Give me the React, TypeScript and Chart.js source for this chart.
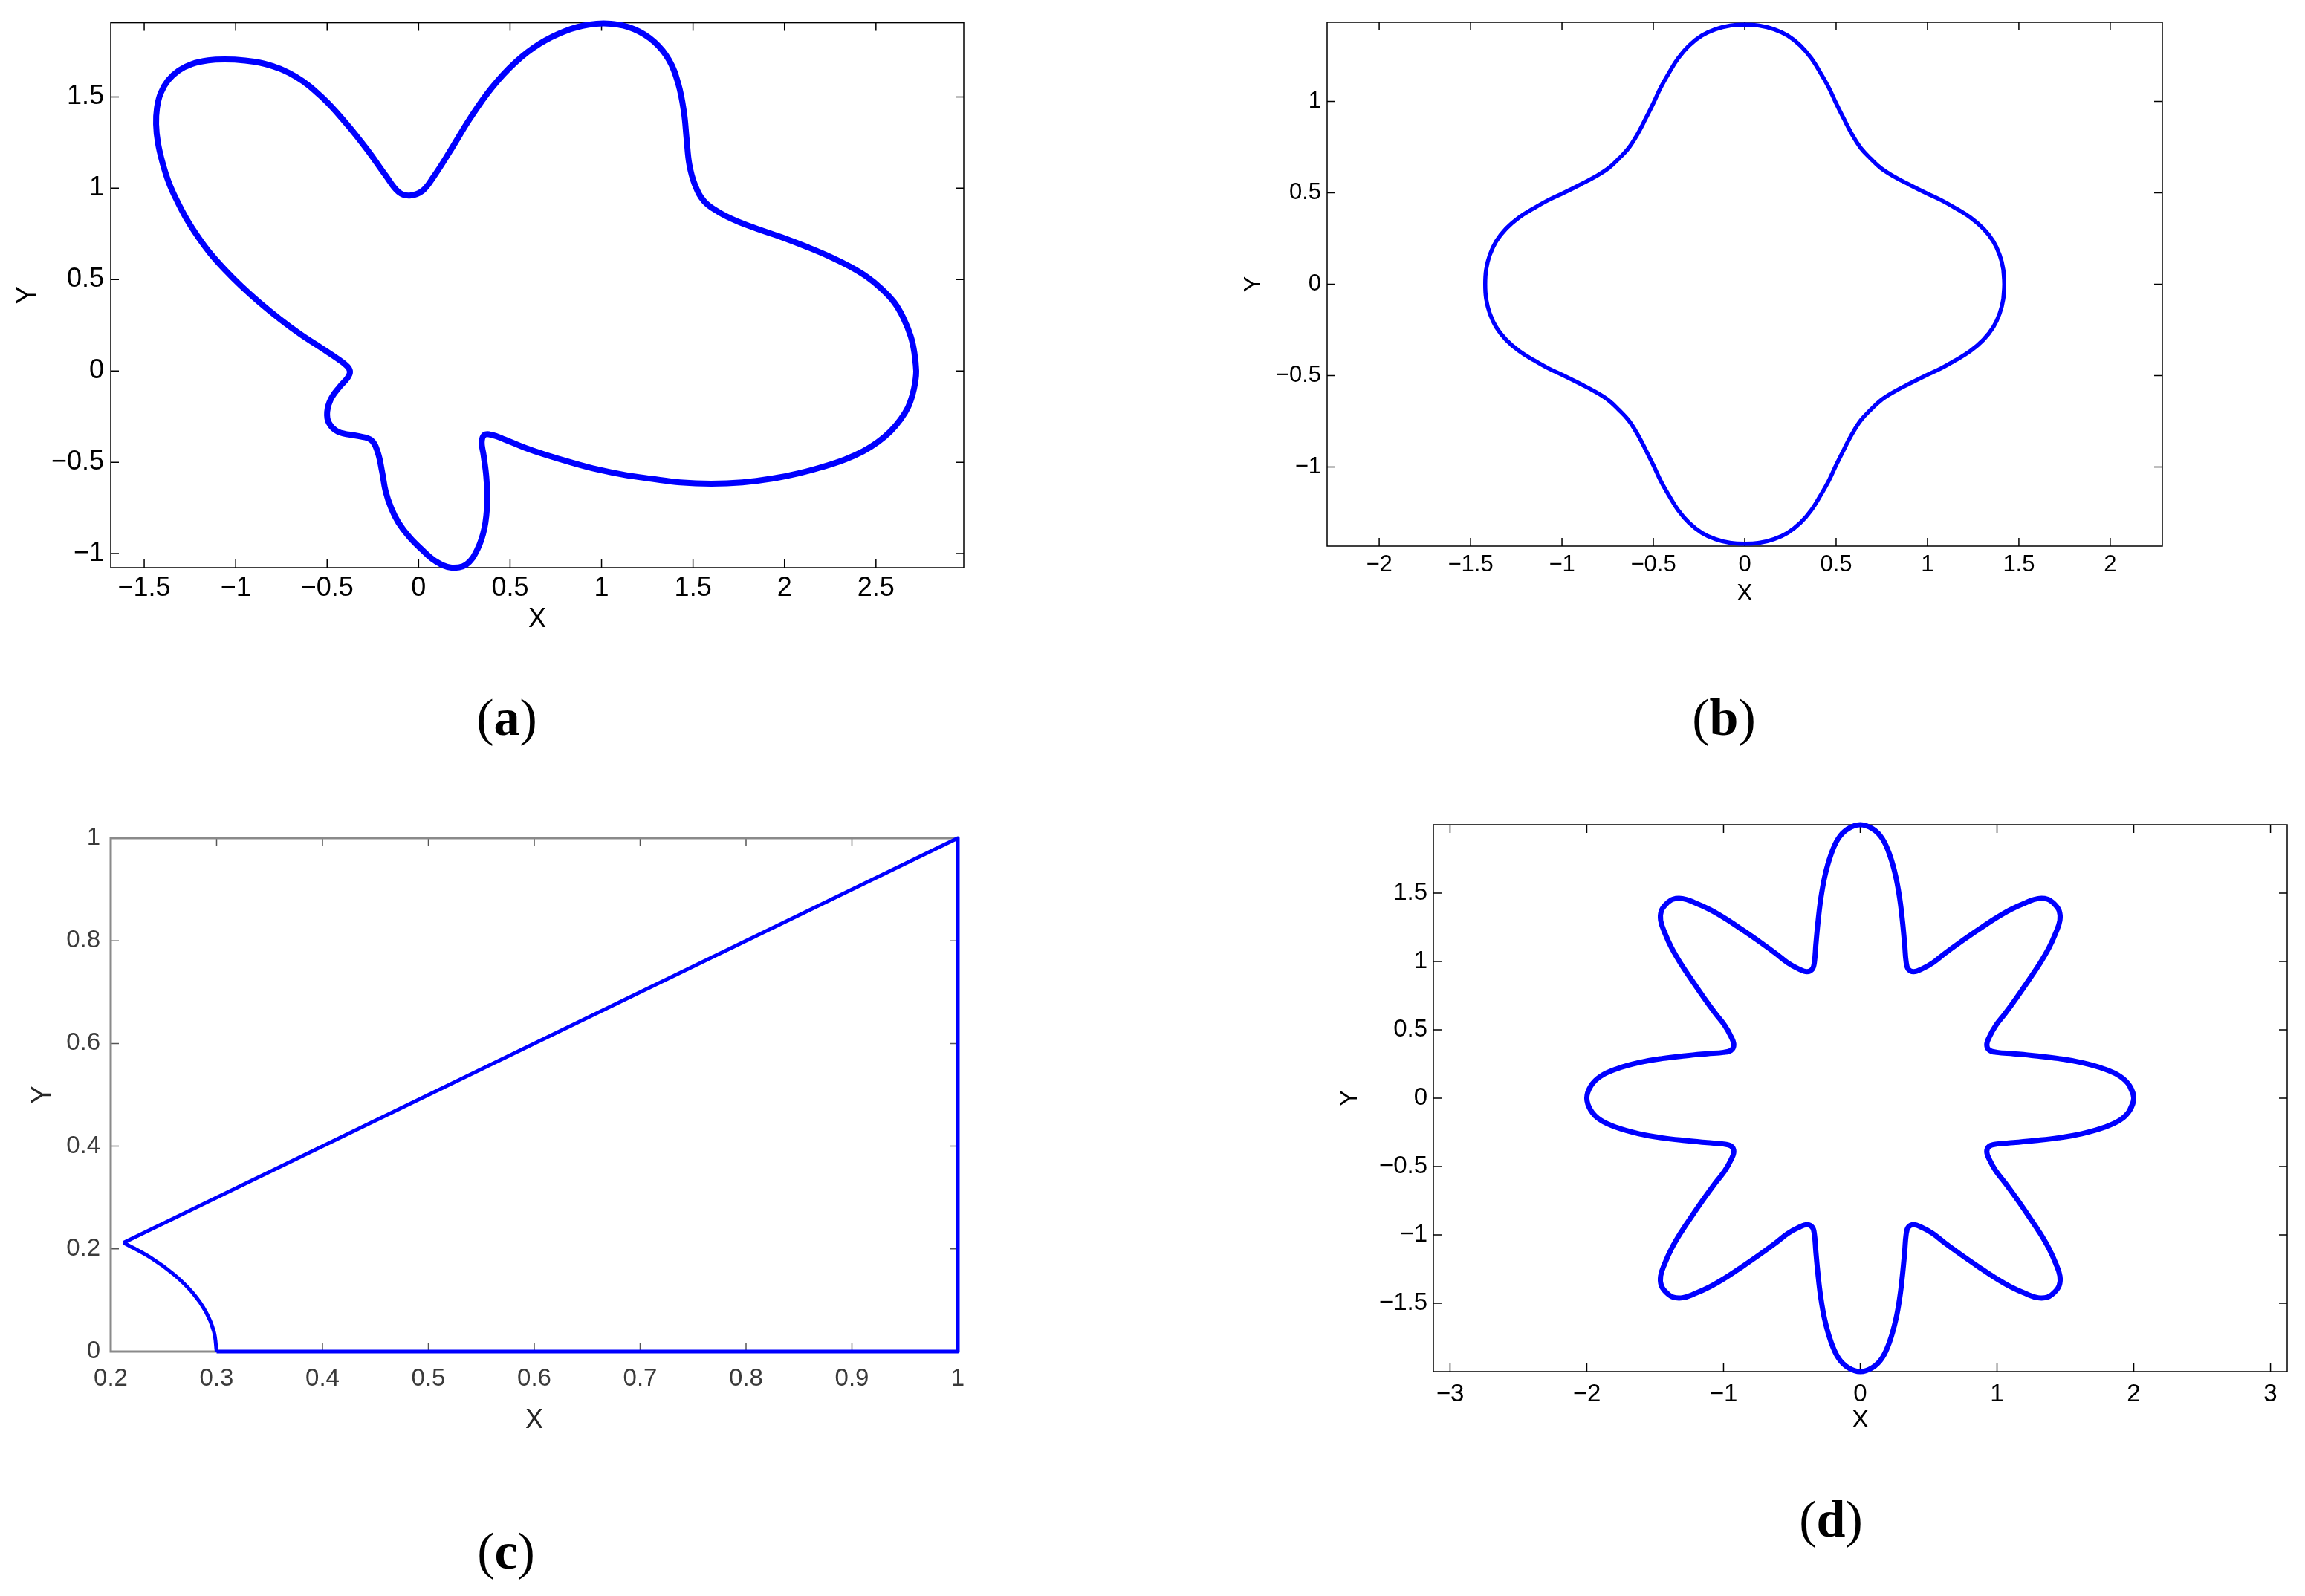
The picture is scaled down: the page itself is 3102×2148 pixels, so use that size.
import React, { useEffect, useRef } from 'react';
import { Chart, registerables } from 'chart.js';

Chart.register(...registerables);

type Pt = [number, number];

const BLUE = '#0000ff';
const SANS = '"Liberation Sans", Arial, Helvetica, sans-serif';
const SERIF = '"Liberation Serif", "Times New Roman", serif';

// ---------- Panel (a) ----------
const curveA: Pt[] = [
  [2.72, 0], [2.71, 0.10], [2.69, 0.19], [2.65, 0.29], [2.60, 0.375], [2.53, 0.45], [2.45, 0.515],
  [2.36, 0.57], [2.25, 0.625], [2.12, 0.68], [1.99, 0.73], [1.86, 0.775], [1.74, 0.82],
  [1.64, 0.87], [1.56, 0.93],
  [1.51, 1.02], [1.48, 1.13], [1.465, 1.27], [1.45, 1.42], [1.42, 1.57], [1.37, 1.70], [1.29, 1.80],
  [1.18, 1.87], [1.05, 1.90], [0.93, 1.895], [0.80, 1.86], [0.66, 1.79], [0.53, 1.69], [0.40, 1.55],
  [0.28, 1.38], [0.17, 1.20], [0.08, 1.06], [0.02, 0.985], [-0.05, 0.96], [-0.11, 0.98], [-0.18, 1.07],
  [-0.28, 1.21], [-0.40, 1.36], [-0.53, 1.50], [-0.67, 1.61], [-0.82, 1.675], [-0.96, 1.70], [-1.06, 1.705],
  [-1.15, 1.70], [-1.24, 1.68], [-1.31, 1.645], [-1.37, 1.59], [-1.41, 1.52], [-1.43, 1.44], [-1.435, 1.35],
  [-1.425, 1.25], [-1.40, 1.14], [-1.365, 1.03], [-1.32, 0.93], [-1.27, 0.835], [-1.21, 0.74], [-1.14, 0.645],
  [-1.06, 0.555], [-0.97, 0.465], [-0.87, 0.375], [-0.76, 0.285], [-0.645, 0.20], [-0.53, 0.125],
  [-0.44, 0.065], [-0.39, 0.025], [-0.375, -0.005], [-0.39, -0.04], [-0.43, -0.085], [-0.48, -0.155],
  [-0.50, -0.225], [-0.49, -0.285], [-0.44, -0.333], [-0.33, -0.357], [-0.26, -0.378], [-0.225, -0.44],
  [-0.20, -0.55], [-0.18, -0.66], [-0.15, -0.75], [-0.11, -0.83], [-0.05, -0.91], [0.02, -0.98],
  [0.09, -1.04], [0.18, -1.077], [0.26, -1.06], [0.32, -0.98], [0.36, -0.86], [0.375, -0.72],
  [0.37, -0.58], [0.355, -0.46], [0.345, -0.39], [0.36, -0.35], [0.40, -0.35], [0.47, -0.375],
  [0.58, -0.42], [0.69, -0.458], [0.83, -0.50], [0.98, -0.54], [1.13, -0.57], [1.27, -0.59],
  [1.43, -0.61], [1.60, -0.617], [1.77, -0.61], [1.93, -0.59], [2.08, -0.56], [2.21, -0.525],
  [2.33, -0.485], [2.43, -0.44], [2.51, -0.39], [2.58, -0.33], [2.635, -0.265], [2.675, -0.20],
  [2.70, -0.13], [2.715, -0.06], [2.72, 0],
];
const ticksAX = [-1.5, -1, -0.5, 0, 0.5, 1, 1.5, 2, 2.5];
const labelsAX = ['−1.5', '−1', '−0.5', '0', '0.5', '1', '1.5', '2', '2.5'];
const ticksAY = [-1, -0.5, 0, 0.5, 1, 1.5];
const labelsAY = ['−1', '−0.5', '0', '0.5', '1', '1.5'];

// ---------- Panel (b) ----------
const curveB: Pt[] = [
  [1.42, 0], [1.415, 0.08], [1.395, 0.16], [1.36, 0.235], [1.305, 0.305], [1.235, 0.365], [1.155, 0.415],
  [1.075, 0.46], [0.99, 0.5], [0.90, 0.545], [0.815, 0.59], [0.745, 0.635], [0.688, 0.688], [0.635, 0.745],
  [0.59, 0.815], [0.545, 0.90], [0.5, 0.99], [0.46, 1.075], [0.415, 1.155], [0.365, 1.235], [0.305, 1.305],
  [0.235, 1.36], [0.16, 1.395], [0.08, 1.415], [0, 1.42],
  [-0.08, 1.415], [-0.16, 1.395], [-0.235, 1.36], [-0.305, 1.305], [-0.365, 1.235], [-0.415, 1.155],
  [-0.46, 1.075], [-0.5, 0.99], [-0.545, 0.90], [-0.59, 0.815], [-0.635, 0.745], [-0.688, 0.688],
  [-0.745, 0.635], [-0.815, 0.59], [-0.90, 0.545], [-0.99, 0.5], [-1.075, 0.46], [-1.155, 0.415],
  [-1.235, 0.365], [-1.305, 0.305], [-1.36, 0.235], [-1.395, 0.16], [-1.415, 0.08], [-1.42, 0],
  [-1.415, -0.08], [-1.395, -0.16], [-1.36, -0.235], [-1.305, -0.305], [-1.235, -0.365], [-1.155, -0.415],
  [-1.075, -0.46], [-0.99, -0.5], [-0.90, -0.545], [-0.815, -0.59], [-0.745, -0.635], [-0.688, -0.688],
  [-0.635, -0.745], [-0.59, -0.815], [-0.545, -0.90], [-0.5, -0.99], [-0.46, -1.075], [-0.415, -1.155],
  [-0.365, -1.235], [-0.305, -1.305], [-0.235, -1.36], [-0.16, -1.395], [-0.08, -1.415], [0, -1.42],
  [0.08, -1.415], [0.16, -1.395], [0.235, -1.36], [0.305, -1.305], [0.365, -1.235], [0.415, -1.155],
  [0.46, -1.075], [0.5, -0.99], [0.545, -0.90], [0.59, -0.815], [0.635, -0.745], [0.688, -0.688],
  [0.745, -0.635], [0.815, -0.59], [0.90, -0.545], [0.99, -0.5], [1.075, -0.46], [1.155, -0.415],
  [1.235, -0.365], [1.305, -0.305], [1.36, -0.235], [1.395, -0.16], [1.415, -0.08], [1.42, 0],
];
const ticksBX = [-2, -1.5, -1, -0.5, 0, 0.5, 1, 1.5, 2];
const labelsBX = ['−2', '−1.5', '−1', '−0.5', '0', '0.5', '1', '1.5', '2'];
const ticksBY = [-1, -0.5, 0, 0.5, 1];
const labelsBY = ['−1', '−0.5', '0', '0.5', '1'];

// ---------- Panel (c) ----------
const polyC: Pt[] = [[0.3, 0], [1, 0], [1, 1], [0.2121, 0.2121]];
const arcC: Pt[] = [
  [0.2121, 0.2121], [0.238, 0.1826], [0.2598, 0.15], [0.2772, 0.1148], [0.2898, 0.0776], [0.2974, 0.0392], [0.3, 0],
];
const ticksCX = [0.2, 0.3, 0.4, 0.5, 0.6, 0.7, 0.8, 0.9, 1];
const labelsCX = ['0.2', '0.3', '0.4', '0.5', '0.6', '0.7', '0.8', '0.9', '1'];
const ticksCY = [0, 0.2, 0.4, 0.6, 0.8, 1];
const labelsCY = ['0', '0.2', '0.4', '0.6', '0.8', '1'];

// ---------- Panel (d) ----------
const curveD: Pt[] = [
  [2.0, 0], [1.97, 0.09], [1.90, 0.16], [1.78, 0.215], [1.62, 0.26], [1.45, 0.29], [1.28, 0.31], [1.12, 0.325],
  [1.00, 0.335], [0.945, 0.35], [0.925, 0.39], [0.945, 0.45], [0.99, 0.53], [1.06, 0.62], [1.14, 0.73],
  [1.23, 0.86], [1.31, 0.98], [1.38, 1.10], [1.43, 1.21], [1.46, 1.30], [1.455, 1.37], [1.42, 1.42],
  [1.37, 1.455], [1.30, 1.46], [1.21, 1.43], [1.10, 1.38], [0.98, 1.31], [0.86, 1.23], [0.73, 1.14],
  [0.62, 1.06], [0.53, 0.99], [0.45, 0.945], [0.39, 0.925], [0.35, 0.945], [0.335, 1.00], [0.325, 1.12],
  [0.31, 1.28], [0.29, 1.45], [0.26, 1.62], [0.215, 1.78], [0.16, 1.90], [0.09, 1.97], [0, 2.0],
  [-0.09, 1.97], [-0.16, 1.90], [-0.215, 1.78], [-0.26, 1.62], [-0.29, 1.45], [-0.31, 1.28], [-0.325, 1.12],
  [-0.335, 1.00], [-0.35, 0.945], [-0.39, 0.925], [-0.45, 0.945], [-0.53, 0.99], [-0.62, 1.06], [-0.73, 1.14],
  [-0.86, 1.23], [-0.98, 1.31], [-1.10, 1.38], [-1.21, 1.43], [-1.30, 1.46], [-1.37, 1.455], [-1.42, 1.42],
  [-1.455, 1.37], [-1.46, 1.30], [-1.43, 1.21], [-1.38, 1.10], [-1.31, 0.98], [-1.23, 0.86], [-1.14, 0.73],
  [-1.06, 0.62], [-0.99, 0.53], [-0.945, 0.45], [-0.925, 0.39], [-0.945, 0.35], [-1.00, 0.335], [-1.12, 0.325],
  [-1.28, 0.31], [-1.45, 0.29], [-1.62, 0.26], [-1.78, 0.215], [-1.90, 0.16], [-1.97, 0.09], [-2.0, 0],
  [-1.97, -0.09], [-1.90, -0.16], [-1.78, -0.215], [-1.62, -0.26], [-1.45, -0.29], [-1.28, -0.31], [-1.12, -0.325],
  [-1.00, -0.335], [-0.945, -0.35], [-0.925, -0.39], [-0.945, -0.45], [-0.99, -0.53], [-1.06, -0.62], [-1.14, -0.73],
  [-1.23, -0.86], [-1.31, -0.98], [-1.38, -1.10], [-1.43, -1.21], [-1.46, -1.30], [-1.455, -1.37], [-1.42, -1.42],
  [-1.37, -1.455], [-1.30, -1.46], [-1.21, -1.43], [-1.10, -1.38], [-0.98, -1.31], [-0.86, -1.23], [-0.73, -1.14],
  [-0.62, -1.06], [-0.53, -0.99], [-0.45, -0.945], [-0.39, -0.925], [-0.35, -0.945], [-0.335, -1.00], [-0.325, -1.12],
  [-0.31, -1.28], [-0.29, -1.45], [-0.26, -1.62], [-0.215, -1.78], [-0.16, -1.90], [-0.09, -1.97], [0, -2.0],
  [0.09, -1.97], [0.16, -1.90], [0.215, -1.78], [0.26, -1.62], [0.29, -1.45], [0.31, -1.28], [0.325, -1.12],
  [0.335, -1.00], [0.35, -0.945], [0.39, -0.925], [0.45, -0.945], [0.53, -0.99], [0.62, -1.06], [0.73, -1.14],
  [0.86, -1.23], [0.98, -1.31], [1.10, -1.38], [1.21, -1.43], [1.30, -1.46], [1.37, -1.455], [1.42, -1.42],
  [1.455, -1.37], [1.46, -1.30], [1.43, -1.21], [1.38, -1.10], [1.31, -0.98], [1.23, -0.86], [1.14, -0.73],
  [1.06, -0.62], [0.99, -0.53], [0.945, -0.45], [0.925, -0.39], [0.945, -0.35], [1.00, -0.335], [1.12, -0.325],
  [1.28, -0.31], [1.45, -0.29], [1.62, -0.26], [1.78, -0.215], [1.90, -0.16], [1.97, -0.09], [2.0, 0],
];
const ticksDX = [-3, -2, -1, 0, 1, 2, 3];
const labelsDX = ['−3', '−2', '−1', '0', '1', '2', '3'];
const ticksDY = [-1.5, -1, -0.5, 0, 0.5, 1, 1.5];
const labelsDY = ['−1.5', '−1', '−0.5', '0', '0.5', '1', '1.5'];

// ---------- Layout specs ----------
interface Series { pts: Pt[]; tension: number; closed: boolean; }
interface PanelSpec {
  canvas: { left: number; top: number; w: number; h: number };
  area: { l: number; r: number; t: number; b: number };
  xRange: [number, number];
  yRange: [number, number];
  xTicks: number[]; xLabels: string[];
  yTicks: number[]; yLabels: string[];
  yTitleX: number; xTitleY: number;
  tickSize: number; titleSize: number;
  xTickPad: number; yTickPad: number;
  lineWidth: number;
  series: Series[];
  boxColor: string; boxWidth: number; tickColor: string; labelColor: string; titleColor: string;
}

const panels: PanelSpec[] = [
  {
    canvas: { left: 0, top: 0, w: 1400, h: 880 },
    area: { l: 149, r: 1297, t: 30, b: 764 },
    xRange: [-1.683, 2.98], yRange: [-1.077, 1.906],
    xTicks: ticksAX, xLabels: labelsAX, yTicks: ticksAY, yLabels: labelsAY,
    yTitleX: 38, xTitleY: 834, tickSize: 36, titleSize: 36, xTickPad: 6, yTickPad: 9,
    lineWidth: 8, series: [{ pts: curveA, tension: 0.4, closed: true }],
    boxColor: '#000', boxWidth: 1.5, tickColor: '#000', labelColor: '#000', titleColor: '#000',
  },
  {
    canvas: { left: 1600, top: 0, w: 1502, h: 880 },
    area: { l: 1786, r: 2910, t: 30, b: 735 },
    xRange: [-2.285, 2.285], yRange: [-1.433, 1.433],
    xTicks: ticksBX, xLabels: labelsBX, yTicks: ticksBY, yLabels: labelsBY,
    yTitleX: 1687, xTitleY: 799, tickSize: 31, titleSize: 32, xTickPad: 7, yTickPad: 8,
    lineWidth: 5.5, series: [{ pts: curveB, tension: 0.4, closed: true }],
    boxColor: '#000', boxWidth: 1.5, tickColor: '#000', labelColor: '#000', titleColor: '#000',
  },
  {
    canvas: { left: 0, top: 1080, w: 1400, h: 900 },
    area: { l: 149, r: 1289, t: 1128, b: 1819 },
    xRange: [0.2, 1], yRange: [0, 1],
    xTicks: ticksCX, xLabels: labelsCX, yTicks: ticksCY, yLabels: labelsCY,
    yTitleX: 58, xTitleY: 1912, tickSize: 33, titleSize: 36, xTickPad: 17, yTickPad: 14,
    lineWidth: 5,
    series: [{ pts: polyC, tension: 0, closed: false }, { pts: arcC, tension: 0.4, closed: false }],
    boxColor: '#8a8a8a', boxWidth: 3, tickColor: '#555', labelColor: '#3a3a3a', titleColor: '#262626',
  },
  {
    canvas: { left: 1700, top: 1080, w: 1402, h: 900 },
    area: { l: 1929, r: 3078, t: 1110, b: 1846 },
    xRange: [-3.122, 3.122], yRange: [-2, 2],
    xTicks: ticksDX, xLabels: labelsDX, yTicks: ticksDY, yLabels: labelsDY,
    yTitleX: 1817, xTitleY: 1912, tickSize: 33, titleSize: 34, xTickPad: 11, yTickPad: 8,
    lineWidth: 7, series: [{ pts: curveD, tension: 0.4, closed: true }],
    boxColor: '#000', boxWidth: 1.5, tickColor: '#000', labelColor: '#000', titleColor: '#000',
  },
];

const panelLabels = [
  { letter: 'a', cx: 682, baseline: 990 },
  { letter: 'b', cx: 2320, baseline: 990 },
  { letter: 'c', cx: 681, baseline: 2112 },
  { letter: 'd', cx: 2464, baseline: 2069 },
];

const TICK_LEN = 11;

const boxPlugin = {
  id: 'matlabBox',
  beforeDatasetsDraw(chart: any, _args: any, opts: any) {
    const { ctx, chartArea } = chart;
    const { left, right, top, bottom } = chartArea;
    const xs = chart.scales.x;
    const ys = chart.scales.y;
    ctx.save();
    ctx.strokeStyle = opts.tickColor;
    ctx.lineWidth = 1.5;
    ctx.beginPath();
    xs.ticks.forEach((t: any) => {
      const p = xs.getPixelForValue(t.value);
      ctx.moveTo(p, bottom); ctx.lineTo(p, bottom - TICK_LEN);
      ctx.moveTo(p, top); ctx.lineTo(p, top + TICK_LEN);
    });
    ys.ticks.forEach((t: any) => {
      const p = ys.getPixelForValue(t.value);
      ctx.moveTo(left, p); ctx.lineTo(left + TICK_LEN, p);
      ctx.moveTo(right, p); ctx.lineTo(right - TICK_LEN, p);
    });
    ctx.stroke();
    ctx.strokeStyle = opts.boxColor;
    ctx.lineWidth = opts.boxWidth;
    ctx.strokeRect(left, top, right - left, bottom - top);
    ctx.restore();
  },
};

function seriesData(ser: Series) {
  // closed curves: wrap one read point on each side so the spline joins smoothly
  const n = ser.pts.length;
  const pts = ser.closed ? [ser.pts[n - 2], ...ser.pts, ser.pts[1]] : ser.pts;
  return pts.map(([x, y]) => ({ x, y }));
}

function buildConfig(s: PanelSpec): any {
  const titleLH = s.titleSize * 1.2;
  const yScaleWidth = s.area.l - s.canvas.left;
  const xScaleHeight = s.canvas.top + s.canvas.h - s.area.b;
  const yTitlePad = s.yTitleX - s.canvas.left - titleLH / 2;
  const xTitlePad = s.canvas.top + s.canvas.h - titleLH / 2 - s.xTitleY;
  return {
    type: 'scatter',
    data: {
      datasets: s.series.map((ser) => ({
        data: seriesData(ser),
        showLine: true,
        borderColor: BLUE,
        backgroundColor: BLUE,
        borderWidth: s.lineWidth,
        borderJoinStyle: 'round',
        pointRadius: 0,
        pointHoverRadius: 0,
        tension: ser.tension,
        fill: false,
        clip: false,
      })),
    },
    plugins: [boxPlugin],
    options: {
      responsive: false,
      animation: false,
      devicePixelRatio: 1,
      events: [],
      layout: {
        autoPadding: false,
        padding: {
          left: 0,
          top: s.area.t - s.canvas.top,
          right: s.canvas.left + s.canvas.w - s.area.r,
          bottom: 0,
        },
      },
      plugins: {
        legend: { display: false },
        tooltip: { enabled: false },
        matlabBox: { boxColor: s.boxColor, boxWidth: s.boxWidth, tickColor: s.tickColor },
      },
      scales: {
        x: {
          type: 'linear',
          position: 'bottom',
          min: s.xRange[0],
          max: s.xRange[1],
          grid: { display: false, drawTicks: false },
          border: { display: false },
          afterBuildTicks: (sc: any) => { sc.ticks = s.xTicks.map((v) => ({ value: v })); },
          afterFit: (sc: any) => { sc.height = xScaleHeight; },
          ticks: {
            autoSkip: false, maxRotation: 0, minRotation: 0,
            padding: s.xTickPad,
            color: s.labelColor,
            font: { family: SANS, size: s.tickSize },
            callback: (_v: any, i: number) => s.xLabels[i],
          },
          title: {
            display: true, text: 'X', color: s.titleColor,
            font: { family: SANS, size: s.titleSize },
            padding: { top: 0, bottom: xTitlePad },
          },
        },
        y: {
          type: 'linear',
          position: 'left',
          min: s.yRange[0],
          max: s.yRange[1],
          grid: { display: false, drawTicks: false },
          border: { display: false },
          afterBuildTicks: (sc: any) => { sc.ticks = s.yTicks.map((v) => ({ value: v })); },
          afterFit: (sc: any) => { sc.width = yScaleWidth; },
          ticks: {
            autoSkip: false,
            padding: s.yTickPad,
            color: s.labelColor,
            font: { family: SANS, size: s.tickSize },
            callback: (_v: any, i: number) => s.yLabels[i],
          },
          title: {
            display: true, text: 'Y', color: s.titleColor,
            font: { family: SANS, size: s.titleSize },
            padding: { top: yTitlePad, bottom: 0 },
          },
        },
      },
    },
  };
}

function Panel({ spec }: { spec: PanelSpec }) {
  const ref = useRef<HTMLCanvasElement | null>(null);
  useEffect(() => {
    if (!ref.current) return;
    const chart = new Chart(ref.current, buildConfig(spec));
    return () => chart.destroy();
  }, [spec]);
  return (
    <canvas
      ref={ref}
      width={spec.canvas.w}
      height={spec.canvas.h}
      style={{
        position: 'absolute',
        left: spec.canvas.left,
        top: spec.canvas.top,
        width: spec.canvas.w,
        height: spec.canvas.h,
        display: 'block',
      }}
    />
  );
}

export default function App() {
  const LABEL_SIZE = 70;
  return (
    <div
      style={{
        position: 'absolute',
        left: 0,
        top: 0,
        width: 3102,
        height: 2148,
        background: '#ffffff',
        overflow: 'hidden',
      }}
    >
      {panels.map((p, i) => (
        <Panel key={i} spec={p} />
      ))}
      {panelLabels.map((l) => (
        <div
          key={l.letter}
          style={{
            position: 'absolute',
            left: l.cx - 100,
            width: 200,
            top: l.baseline - 58.6,
            height: LABEL_SIZE,
            lineHeight: `${LABEL_SIZE}px`,
            fontSize: LABEL_SIZE,
            fontFamily: SERIF,
            textAlign: 'center',
            color: '#000',
          }}
        >
          <span style={{ fontWeight: 'normal' }}>(</span>
          <span style={{ fontWeight: 'bold' }}>{l.letter}</span>
          <span style={{ fontWeight: 'normal' }}>)</span>
        </div>
      ))}
    </div>
  );
}
